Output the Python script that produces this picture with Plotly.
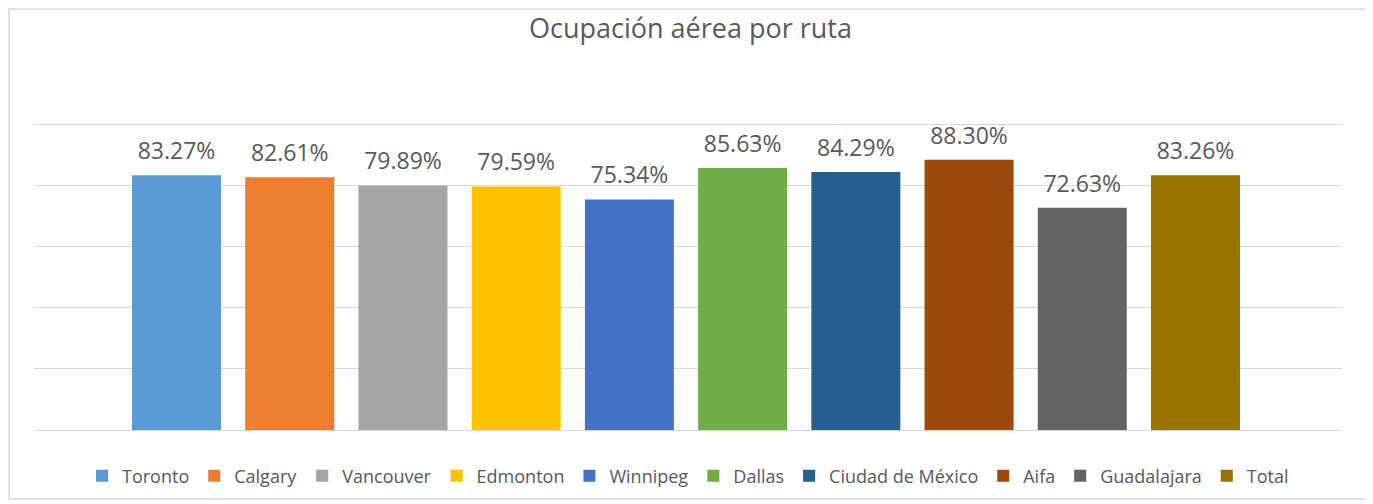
import plotly.graph_objects as go

# route occupancy values (fraction)
routes = ["Toronto", "Calgary", "Vancouver", "Edmonton", "Winnipeg", "Dallas",
          "Ciudad de México", "Aifa", "Guadalajara", "Total"]
occupancy = [0.8327, 0.8261, 0.7989, 0.7959, 0.7534, 0.8563, 0.8429, 0.8830, 0.7263, 0.8326]
colors = ["#5B9BD5", "#ED7D31", "#A5A5A5", "#FFC000", "#4472C4", "#70AD47",
          "#255E91", "#9E480E", "#636363", "#997300"]

labels = [f"{v*100:.2f}%" for v in occupancy]

fig = go.Figure()

# one bar trace per route so each gets its own legend entry
for name, val, col in zip(routes, occupancy, colors):
    fig.add_trace(go.Bar(
        x=[name], y=[val], name=name,
        marker=dict(color=col, line=dict(width=0)),
    ))

# value labels floating above the bars
fig.add_trace(go.Scatter(
    x=routes, y=occupancy, mode="markers+text", text=labels,
    textposition="top center",
    textfont=dict(family="Open Sans", size=23, color="#595959"),
    marker=dict(size=15, opacity=0), showlegend=False, hoverinfo="skip",
    cliponaxis=False,
))

# browser body adds 8px, so the figure is 8px smaller than the window
fig.update_layout(
    width=1365, height=496,
    paper_bgcolor="white", plot_bgcolor="white",
    margin=dict(l=26, r=31, t=113, b=74, autoexpand=False),
    barmode="overlay", bargap=0.214,
    title=dict(text="Ocupación aérea por ruta", x=0.5, xanchor="center",
               y=1 - 21/496, yanchor="middle",
               font=dict(family="Open Sans", size=27, color="#595959")),
    legend=dict(orientation="h", x=0.5, xanchor="center", y=-46/309, yanchor="middle",
                font=dict(family="Open Sans", size=18, color="#595959"),
                itemwidth=30, traceorder="normal"),
    showlegend=True,
)
fig.update_xaxes(showticklabels=False, showgrid=False, zeroline=False, showline=False,
                 range=[-1.259, 10.294])
fig.update_yaxes(range=[0, 1.01], tick0=0, dtick=0.2, showticklabels=False,
                 showgrid=True, gridcolor="#D9D9D9", gridwidth=1,
                 zeroline=True, zerolinecolor="#D9D9D9", zerolinewidth=1)

# chart frame
fig.add_shape(type="rect", xref="paper", yref="paper",
              x0=-25/1308, x1=1333/1308, y0=-69/309, y1=(309 + 112)/309,
              line=dict(color="#D9D9D9", width=1.5), layer="below")

fig.write_html("out.html")
